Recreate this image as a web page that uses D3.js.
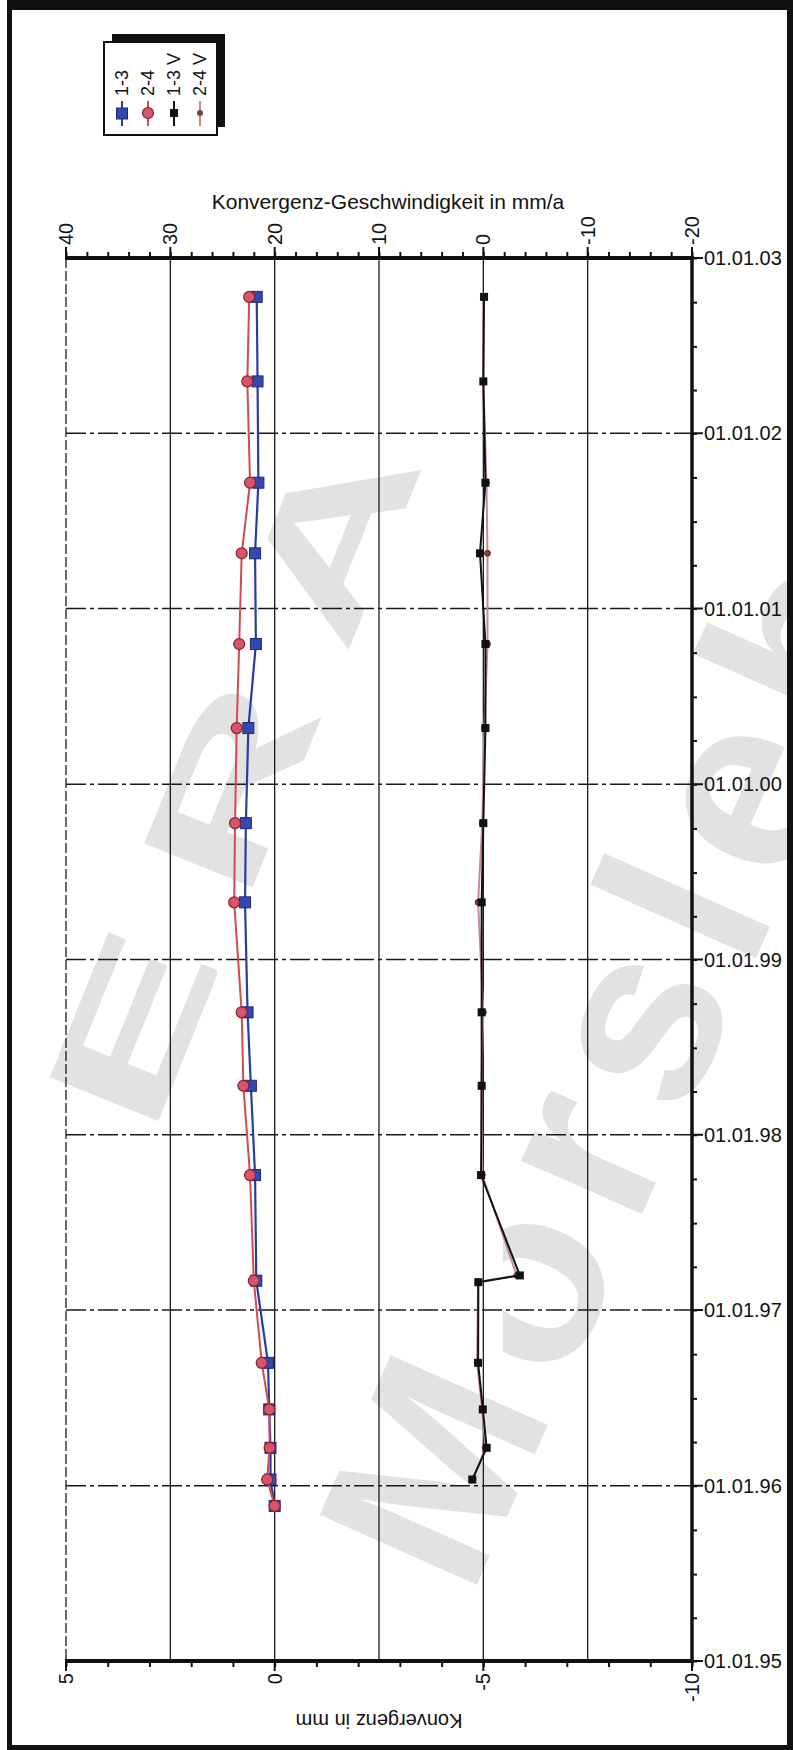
<!DOCTYPE html>
<html><head><meta charset="utf-8">
<script src="https://cdn.jsdelivr.net/npm/d3@7/dist/d3.min.js"></script>
<style>body{margin:0;background:#fff}svg{display:block}text{font-family:"Liberation Sans",Arial,sans-serif}</style>
</head><body>
<svg id="c" width="793" height="1750"></svg>
<script>
// ---- data ----
const measDates = ["1995-11-20","1996-01-14","1996-03-20","1996-06-08","1996-09-13","1997-03-03","1997-10-09","1998-04-13","1998-09-13","1999-04-30","1999-10-12","2000-04-27","2000-10-19","2001-04-26","2001-09-20","2002-04-19","2002-10-12"];
const conv13 = [0.0,0.10,0.10,0.13,0.16,0.44,0.47,0.57,0.65,0.71,0.69,0.63,0.45,0.47,0.39,0.41,0.43];
const conv24 = [0.0,0.18,0.12,0.13,0.31,0.50,0.59,0.75,0.79,0.97,0.95,0.91,0.85,0.79,0.59,0.655,0.61];
const velDates = ["1996-01-14","1996-03-20","1996-06-08","1996-09-13","1997-02-28","1997-03-14","1997-10-09","1998-04-13","1998-09-13","1999-04-30","1999-10-12","2000-04-27","2000-10-19","2001-04-26","2001-09-20","2002-04-19","2002-10-12"];
const vel13 = [1.06,-0.32,0.05,0.50,0.48,-3.5,0.22,0.16,0.16,0.16,0.0,-0.2,-0.2,0.32,-0.2,0.0,-0.07];
const vel24 = [1.0,-0.2,0.1,0.6,0.5,-3.2,0.1,0.2,0.0,0.5,0.1,-0.1,-0.4,-0.4,-0.3,0.0,0.0];
const mmMajor = [5,0,-5,-10];
const velMajor = [40,30,20,10,0,-10,-20];
const yearTicks = ["1995-01-01","1996-01-01","1997-01-01","1998-01-01","1999-01-01","2000-01-01","2001-01-01","2002-01-01","2003-01-01"];
const legendNames = ["1-3","2-4","1-3 V","2-4 V"];
const axisTitleBottom = "Konvergenz in mm";
const axisTitleTop = "Konvergenz-Geschwindigkeit in mm/a";
const watermark = ["ERA","Morsleben"];

const parse = d3.timeParse("%Y-%m-%d");
const svg = d3.select("#c");
const L=66,R=692,T=258,B=1661;
const x = d3.scaleLinear().domain([5,-10]).range([L,R]);
const xv = d3.scaleLinear().domain([40,-20]).range([L,R]);
const y = d3.scaleTime().domain([parse("1995-01-01"),parse("2003-01-01")]).range([B,T]);
const fmt = d3.timeFormat("%d.%m.%y");

// ---- background ----
svg.append("rect").attr("x",0).attr("y",0).attr("width",793).attr("height",1750).attr("fill","#fff");

// ---- watermark ----
const wm = svg.append("g").attr("fill","#e2e2e2").attr("font-weight","bold");
wm.append("text").attr("transform","translate(151,1139) rotate(-68) scale(1.7,1)").attr("font-size",170).attr("letter-spacing",35).text(watermark[0]);
wm.append("text").attr("transform","translate(470,1600) rotate(-66)").attr("font-size",250).attr("letter-spacing",22).text(watermark[1]);
// white knock-outs behind data columns
svg.append("rect").attr("x",217).attr("y",960).attr("width",105).attr("height",552).attr("fill","#fff");
svg.append("rect").attr("x",463).attr("y",436).attr("width",40).attr("height",942).attr("fill","#fff");

// ---- frame ----
const fr = svg.append("g").attr("fill","#111");
fr.append("rect").attr("x",7).attr("y",0).attr("width",786).attr("height",10);
fr.append("rect").attr("x",7).attr("y",0).attr("width",5).attr("height",1750);
fr.append("rect").attr("x",787).attr("y",0).attr("width",6).attr("height",1750);
fr.append("rect").attr("x",7).attr("y",1745).attr("width",786).attr("height",5);

// ---- grid ----
const grid = svg.append("g");
grid.selectAll("line.v").data(velMajor.slice(0,-1)).join("line")
  .attr("x1",d=>xv(d)).attr("x2",d=>xv(d)).attr("y1",T).attr("y2",B)
  .attr("stroke","#1a1a1a").attr("stroke-width",1.3).attr("stroke-dasharray",d=>d===40?"10,3":null);
grid.selectAll("line.h").data(yearTicks.slice(1,-1)).join("line")
  .attr("x1",L).attr("x2",R).attr("y1",d=>y(parse(d))).attr("y2",d=>y(parse(d)))
  .attr("stroke","#1a1a1a").attr("stroke-width",1.5).attr("stroke-dasharray","20,4,4,4");

// ---- axes ----
// bottom (mm)
const gb = svg.append("g").attr("transform",`translate(0,${B})`);
gb.call(d3.axisBottom(x).tickValues(d3.range(5,-10.5,-1)).tickSize(6).tickFormat(""));
gb.call(g=>g.selectAll(".tick line").attr("stroke","#111").attr("stroke-width",2));
gb.select(".domain").remove();
gb.selectAll("line.maj").data(mmMajor).join("line").attr("class","maj")
  .attr("x1",d=>x(d)).attr("x2",d=>x(d)).attr("y1",0).attr("y2",10).attr("stroke","#111").attr("stroke-width",2);
gb.append("line").attr("x1",L-1).attr("x2",R+2).attr("stroke","#111").attr("stroke-width",4);
gb.selectAll("text.lab").data(mmMajor).join("text").attr("class","lab")
  .attr("transform",d=>`translate(${x(d)},12) rotate(-90)`).attr("text-anchor","end").attr("dy","0.35em")
  .attr("font-size",20).attr("fill","#111").text(d=>d===0?"0":(d<0?"-"+(-d):d));
svg.append("text").attr("transform",`translate(${(L+R)/2},1721) rotate(180)`).attr("text-anchor","middle")
  .attr("dy","0.35em").attr("font-size",20).attr("fill","#111").text(axisTitleBottom);

// top (mm/a)
const gt = svg.append("g").attr("transform",`translate(0,${T})`);
gt.call(d3.axisTop(xv).tickValues(d3.range(40,-20.5,-2)).tickSize(6).tickFormat(""));
gt.call(g=>g.selectAll(".tick line").attr("stroke","#111").attr("stroke-width",2));
gt.select(".domain").remove();
gt.selectAll("line.maj").data(velMajor).join("line").attr("class","maj")
  .attr("x1",d=>xv(d)).attr("x2",d=>xv(d)).attr("y1",0).attr("y2",-11).attr("stroke","#111").attr("stroke-width",2);
gt.append("line").attr("x1",L-1).attr("x2",R+2).attr("stroke","#111").attr("stroke-width",4);
gt.selectAll("text.lab").data(velMajor).join("text").attr("class","lab")
  .attr("transform",d=>`translate(${xv(d)},-13) rotate(-90)`).attr("text-anchor","start").attr("dy","0.35em")
  .attr("font-size",20).attr("fill","#111").text(d=>d<0?"-"+(-d):String(d));
svg.append("text").attr("x",388).attr("y",209).attr("text-anchor","middle")
  .attr("font-size",21).attr("fill","#111").text(axisTitleTop);

// right (dates)
const gr = svg.append("g").attr("transform",`translate(${R},0)`);
gr.call(d3.axisRight(y).ticks(d3.timeMonth.every(3)).tickSize(5).tickFormat(""));
gr.call(g=>g.selectAll(".tick line").attr("stroke","#111").attr("stroke-width",2));
gr.select(".domain").remove();
gr.selectAll("line.maj").data(yearTicks).join("line").attr("class","maj")
  .attr("y1",d=>y(parse(d))).attr("y2",d=>y(parse(d))).attr("x1",0).attr("x2",11).attr("stroke","#111").attr("stroke-width",2);
gr.append("line").attr("y1",T-2).attr("y2",B+2).attr("stroke","#111").attr("stroke-width",3.5);
gr.selectAll("text.lab").data(yearTicks).join("text").attr("class","lab")
  .attr("x",12).attr("y",d=>y(parse(d))).attr("dy","0.35em").attr("font-size",20).attr("fill","#111")
  .text(d=>fmt(parse(d)));

// ---- series ----
const meas13 = measDates.map((d,i)=>({t:parse(d),v:conv13[i]}));
const meas24 = measDates.map((d,i)=>({t:parse(d),v:conv24[i]}));
const v13 = velDates.map((d,i)=>({t:parse(d),v:vel13[i]}));
const v24 = velDates.map((d,i)=>({t:parse(d),v:vel24[i]}));
const lineMm = d3.line().x(d=>x(d.v)).y(d=>y(d.t));
const lineV = d3.line().x(d=>xv(d.v)).y(d=>y(d.t));

svg.append("path").datum(v24).attr("d",lineV).attr("fill","none").attr("stroke","#c98a8f").attr("stroke-width",2);
svg.append("g").selectAll("circle").data(v24).join("circle").attr("cx",d=>xv(d.v)).attr("cy",d=>y(d.t)).attr("r",3)
  .attr("fill","#8a3a3a").attr("stroke","#5a1a1a").attr("stroke-width",0.8);
svg.append("path").datum(v13).attr("d",lineV).attr("fill","none").attr("stroke","#111").attr("stroke-width",2);
svg.append("g").selectAll("rect").data(v13).join("rect").attr("x",d=>xv(d.v)-4).attr("y",d=>y(d.t)-4)
  .attr("width",8).attr("height",8).attr("fill","#111");

svg.append("path").datum(meas13).attr("d",lineMm).attr("fill","none").attr("stroke","#2a3c9c").attr("stroke-width",2.2);
svg.append("g").selectAll("rect").data(meas13).join("rect").attr("x",d=>x(d.v)-5.5).attr("y",d=>y(d.t)-5.5)
  .attr("width",11).attr("height",11).attr("fill","#3448b0").attr("stroke","#1c2a78").attr("stroke-width",1);
svg.append("path").datum(meas24).attr("d",lineMm).attr("fill","none").attr("stroke","#d24a52").attr("stroke-width",2);
svg.append("g").selectAll("circle").data(meas24).join("circle").attr("cx",d=>x(d.v)).attr("cy",d=>y(d.t)).attr("r",5.5)
  .attr("fill","#d8546a").attr("stroke","#8a2030").attr("stroke-width",1.2);

// ---- legend ----
const lg = svg.append("g");
lg.append("rect").attr("x",112).attr("y",34).attr("width",113).attr("height",93).attr("fill","#111");
lg.append("rect").attr("x",104).attr("y",42).attr("width",113).attr("height",93).attr("fill","#fff").attr("stroke","#111").attr("stroke-width",2);
const lx = [122,148,174,200];
const lcol = ["#2a3c9c","#d24a52","#111","#c98a8f"];
legendNames.forEach((n,i)=>{
  lg.append("line").attr("x1",lx[i]).attr("x2",lx[i]).attr("y1",101).attr("y2",126).attr("stroke",lcol[i]).attr("stroke-width",2);
  if(i===0) lg.append("rect").attr("x",lx[i]-5.5).attr("y",108).attr("width",11).attr("height",11).attr("fill","#3448b0").attr("stroke","#1c2a78");
  if(i===1) lg.append("circle").attr("cx",lx[i]).attr("cy",113).attr("r",5.5).attr("fill","#d8546a").attr("stroke","#8a2030").attr("stroke-width",1.2);
  if(i===2) lg.append("rect").attr("x",lx[i]-4).attr("y",109).attr("width",8).attr("height",8).attr("fill","#111");
  if(i===3) lg.append("circle").attr("cx",lx[i]).attr("cy",113).attr("r",3).attr("fill","#8a3a3a");
  lg.append("text").attr("transform",`translate(${lx[i]},96) rotate(-90)`).attr("dy","0.35em")
    .attr("font-size",18).attr("fill","#111").text(n);
});
</script>
</body></html>
